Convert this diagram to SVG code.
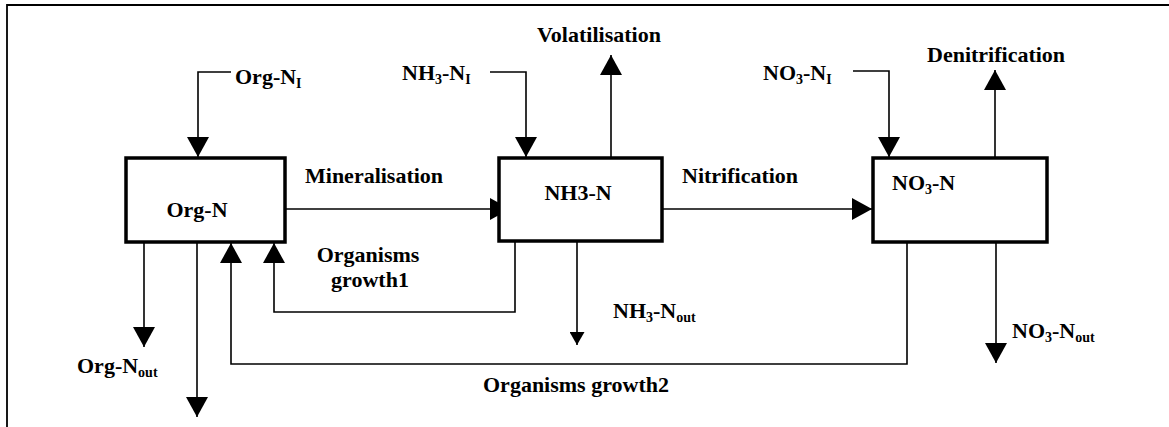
<svg xmlns="http://www.w3.org/2000/svg" width="1169" height="427" viewBox="0 0 1169 427">
<style>
text{font-family:"Liberation Serif","Times New Roman",serif;font-weight:bold;font-size:22px;fill:#000}
.sub{font-size:14px}
.box{fill:#fff;stroke:#000;stroke-width:3.5}
.ln{fill:none;stroke:#000;stroke-width:1.6}
</style>
<defs>
<marker id="ah" markerUnits="userSpaceOnUse" markerWidth="21" markerHeight="22" refX="20" refY="11" orient="auto" viewBox="0 0 21 22">
<path d="M0,0 L20,11 L0,22 z" fill="#000"/>
</marker>
<marker id="ahs" markerUnits="userSpaceOnUse" markerWidth="14" markerHeight="15" refX="13" refY="7.5" orient="auto" viewBox="0 0 14 15">
<path d="M0,0 L13,7.5 L0,15 z" fill="#000"/>
</marker>
</defs>
<path d="M7,427 V5 H1169" fill="none" stroke="#000" stroke-width="1.8"/>
<g id="connectors">
<path class="ln" d="M231,72 H198 V157" marker-end="url(#ah)"/>
<path class="ln" d="M286,209 H510" marker-end="url(#ah)"/>
<path class="ln" d="M490,72 H526 V157" marker-end="url(#ah)"/>
<path class="ln" d="M611,157 V55" marker-end="url(#ah)"/>
<path class="ln" d="M663,209 H872" marker-end="url(#ah)"/>
<path class="ln" d="M853,71 H889 V157" marker-end="url(#ah)"/>
<path class="ln" d="M995,157 V70" marker-end="url(#ah)"/>
<path class="ln" d="M144,243 V347" marker-end="url(#ah)"/>
<path class="ln" d="M197,243 V417" marker-end="url(#ah)"/>
<path class="ln" d="M907,243 V364 H231 V243" marker-end="url(#ah)"/>
<path class="ln" d="M515,242 V312 H274 V243" marker-end="url(#ah)"/>
<path class="ln" d="M577,242 V345" marker-end="url(#ahs)"/>
<path class="ln" d="M996,243 V363" marker-end="url(#ah)"/>
</g>
<g id="org-n">
<rect class="box" x="126" y="158" width="159" height="84"/>
<text x="197" y="217" text-anchor="middle">Org-N</text>
</g>
<g id="nh3-n">
<rect class="box" x="499" y="158" width="163" height="83"/>
<text x="578" y="200" text-anchor="middle">NH3-N</text>
</g>
<g id="no3-n">
<rect class="box" x="873" y="158" width="174" height="84"/>
<text x="892" y="190">NO<tspan class="sub" dy="4">3</tspan><tspan dy="-4">-N</tspan></text>
</g>
<g id="labels">
<text x="235" y="84">Org-N<tspan class="sub" dy="4">I</tspan></text>
<text x="305" y="183">Mineralisation</text>
<text x="402" y="80">NH<tspan class="sub" dy="4">3</tspan><tspan dy="-4">-N</tspan><tspan class="sub" dy="4">I</tspan></text>
<text x="537" y="42">Volatilisation</text>
<text x="682" y="183">Nitrification</text>
<text x="763" y="80">NO<tspan class="sub" dy="4">3</tspan><tspan dy="-4">-N</tspan><tspan class="sub" dy="4">I</tspan></text>
<text x="927" y="62">Denitrification</text>
<text x="368" y="262" text-anchor="middle">Organisms</text>
<text x="370" y="287" text-anchor="middle">growth1</text>
<text x="77" y="373">Org-N<tspan class="sub" dy="4">out</tspan></text>
<text x="613" y="318">NH<tspan class="sub" dy="4">3</tspan><tspan dy="-4">-N</tspan><tspan class="sub" dy="4">out</tspan></text>
<text x="1012" y="338">NO<tspan class="sub" dy="4">3</tspan><tspan dy="-4">-N</tspan><tspan class="sub" dy="4">out</tspan></text>
<text x="483" y="392">Organisms growth2</text>
</g>
</svg>
